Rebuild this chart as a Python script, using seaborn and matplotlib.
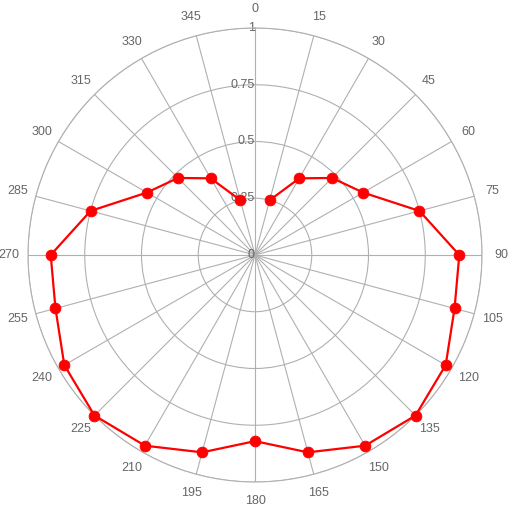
import numpy as np
import matplotlib
matplotlib.use("Agg")
import matplotlib.pyplot as plt
import seaborn as sns

angles_deg = [15, 30, 45, 60, 75, 90, 105, 120, 135, 150, 165, 180,
              195, 210, 225, 240, 255, 270, 285, 300, 315, 330, 345]
values = [0.25, 0.39, 0.48, 0.55, 0.75, 0.90, 0.91, 0.97, 1.00, 0.97, 0.90, 0.82,
          0.90, 0.97, 1.00, 0.97, 0.91, 0.90, 0.75, 0.55, 0.48, 0.39, 0.25]
angle_ticks = list(range(0, 360, 15))
radial_ticks = [0, 0.25, 0.5, 0.75, 1]
radial_labels = ["0", "0.25", "0.5", "0.75", "1"]

sns.set_style("white")
plt.rcParams['font.family'] = ['Liberation Sans', 'DejaVu Sans']

fig = plt.figure(figsize=(5.13, 5.08), dpi=100)
ax = fig.add_axes([28/513, 26/508, 454/513, 454/508], projection='polar')
ax.set_theta_zero_location('N')
ax.set_theta_direction(-1)
ax.set_ylim(0, 1)

grid_c = '#b0b0b0'
ax.set_xticks(np.deg2rad(angle_ticks))
ax.set_xticklabels([str(a) for a in angle_ticks], color='#666666', fontsize=9)
ax.tick_params(axis='x', pad=3.2)
ax.set_yticks(radial_ticks)
ax.set_yticklabels([])
ax.grid(True, color=grid_c, linewidth=0.8)
ax.spines['polar'].set_color(grid_c)
ax.spines['polar'].set_linewidth(0.8)

for r, lab in zip(radial_ticks, radial_labels):
    ax.text(0, r, lab, ha='right', va='center', color='#666666', fontsize=9, zorder=1)

theta = np.deg2rad(angles_deg)
sns.lineplot(x=theta, y=values, ax=ax, sort=False, color='#ff0000', linewidth=1.6, zorder=3,
             clip_on=False)
sns.scatterplot(x=theta, y=values, ax=ax, color='#ff0000', s=60, edgecolor='#ff0000', zorder=4,
                clip_on=False)
ax.set_xlabel('')
ax.set_ylabel('')

fig.savefig('out.png', dpi=100)
